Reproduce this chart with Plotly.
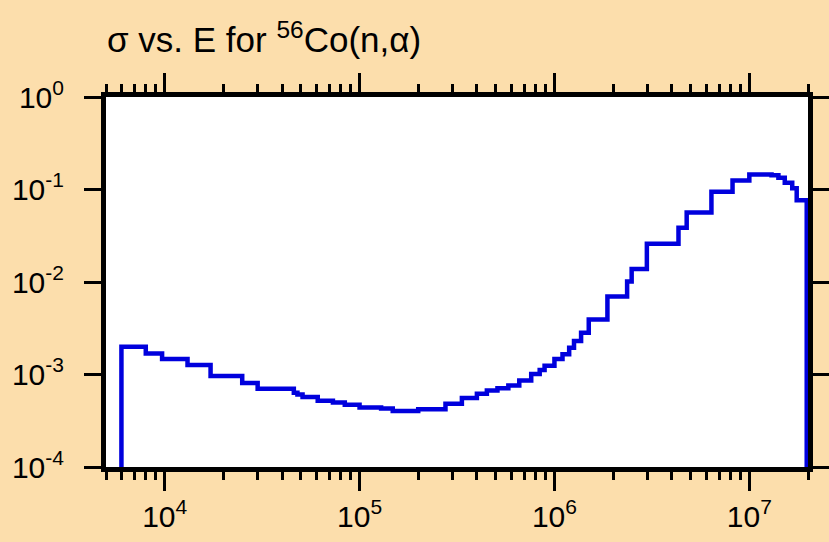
import numpy as np
import plotly.graph_objects as go

# group boundaries (eV) and cross sections (b)
energy_edges = [6.0e3, 8.0e3, 9.7e3, 1.31e4, 1.72e4, 2.5e4, 3.0e4, 4.6e4, 4.8e4, 5.1e4,
                6.1e4, 7.3e4, 8.4e4, 1.0e5, 1.29e5, 1.48e5, 2.0e5, 2.76e5, 3.35e5, 4.0e5,
                4.5e5, 5.1e5, 5.8e5, 6.6e5, 7.6e5, 8.4e5, 8.9e5, 1.0e6, 1.1e6, 1.19e6,
                1.26e6, 1.37e6, 1.5e6, 1.87e6, 2.36e6, 2.49e6, 2.98e6, 4.33e6, 4.77e6, 6.39e6,
                8.2e6, 1.0e7, 1.3e7, 1.41e7, 1.52e7, 1.66e7, 1.75e7, 1.97e7]
sigma = [2.00e-3, 1.69e-3, 1.47e-3, 1.27e-3, 9.64e-4, 8.11e-4, 7.00e-4, 6.34e-4, 6.08e-4, 5.70e-4,
         5.21e-4, 4.99e-4, 4.72e-4, 4.41e-4, 4.28e-4, 4.04e-4, 4.20e-4, 4.83e-4, 5.57e-4, 6.18e-4,
         6.71e-4, 7.12e-4, 7.59e-4, 8.59e-4, 1.01e-3, 1.12e-3, 1.24e-3, 1.47e-3, 1.66e-3, 1.95e-3,
         2.30e-3, 2.83e-3, 3.92e-3, 6.97e-3, 1.01e-2, 1.38e-2, 2.59e-2, 3.85e-2, 5.65e-2, 9.47e-2,
         0.125, 0.1455, 0.143, 0.134, 0.118, 0.103, 0.0766]
floor = 1e-4

x_ticks = [1e4, 1e5, 1e6, 1e7]
x_ticktext = ["10<sup>4</sup>", "10<sup>5</sup>", "10<sup>6</sup>", "10<sup>7</sup>"]
y_ticks = [1e-4, 1e-3, 1e-2, 1e-1, 1e0]
y_ticktext = ["10<sup>-4</sup>", "10<sup>-3</sup>", "10<sup>-2</sup>", "10<sup>-1</sup>", "10<sup>0</sup>"]

# histogram outline: rise from the floor, step through groups, drop back down
xs = [energy_edges[0]] + energy_edges[:-1] + [energy_edges[-1], energy_edges[-1]]
ys = [floor] + sigma + [sigma[-1], floor]

minor_x = [m * 10.0 ** p for p in range(3, 8) for m in range(2, 10)]
minor_x = [v for v in minor_x if 5000 <= v <= 2e7 and v not in x_ticks]

BG = "#FCDEAC"
FONT = "Liberation Sans, Arial, sans-serif"

fig = go.Figure()
fig.add_trace(go.Scatter(x=xs, y=ys, mode="lines", line_shape="hv",
                         line=dict(color="#0000DD", width=4.5), showlegend=False))

axis_common = dict(showline=True, linecolor="black", linewidth=5, mirror="ticks",
                   ticks="outside", tickcolor="black", tickwidth=2.5,
                   showgrid=False, zeroline=False, automargin=False,
                   tickfont=dict(family=FONT, size=30, color="black"))

fig.update_xaxes(type="log", range=[np.log10(5000), np.log10(2e7)],
                 tickmode="array", tickvals=x_ticks, ticktext=x_ticktext, ticklen=19,
                 minor=dict(tickmode="array", tickvals=minor_x, ticks="outside",
                            ticklen=8, tickwidth=2.5, tickcolor="black", showgrid=False),
                 **axis_common)
fig.update_yaxes(type="log", range=[-4, 0], ticklen=17, ticklabelstandoff=14,
                 tickmode="array", tickvals=y_ticks, ticktext=y_ticktext,
                 **axis_common)

fig.update_layout(
    width=829, height=542,
    paper_bgcolor=BG, plot_bgcolor="white",
    margin=dict(l=106, r=21, t=97, b=75, pad=0, autoexpand=False),
    title=dict(text="σ vs. E for <sup>56</sup>Co(n,α)", x=107 / 829, xanchor="left",
               xref="container", y=1 - 40 / 542, yanchor="middle", yref="container",
               font=dict(family=FONT, size=35, color="black")),
)

# drop the default page margin so the figure sits flush in the window
fig.write_html("out.html", config={"displayModeBar": False},
               post_script="document.body.style.margin='0';"
                           "document.body.style.background='" + BG + "';")
